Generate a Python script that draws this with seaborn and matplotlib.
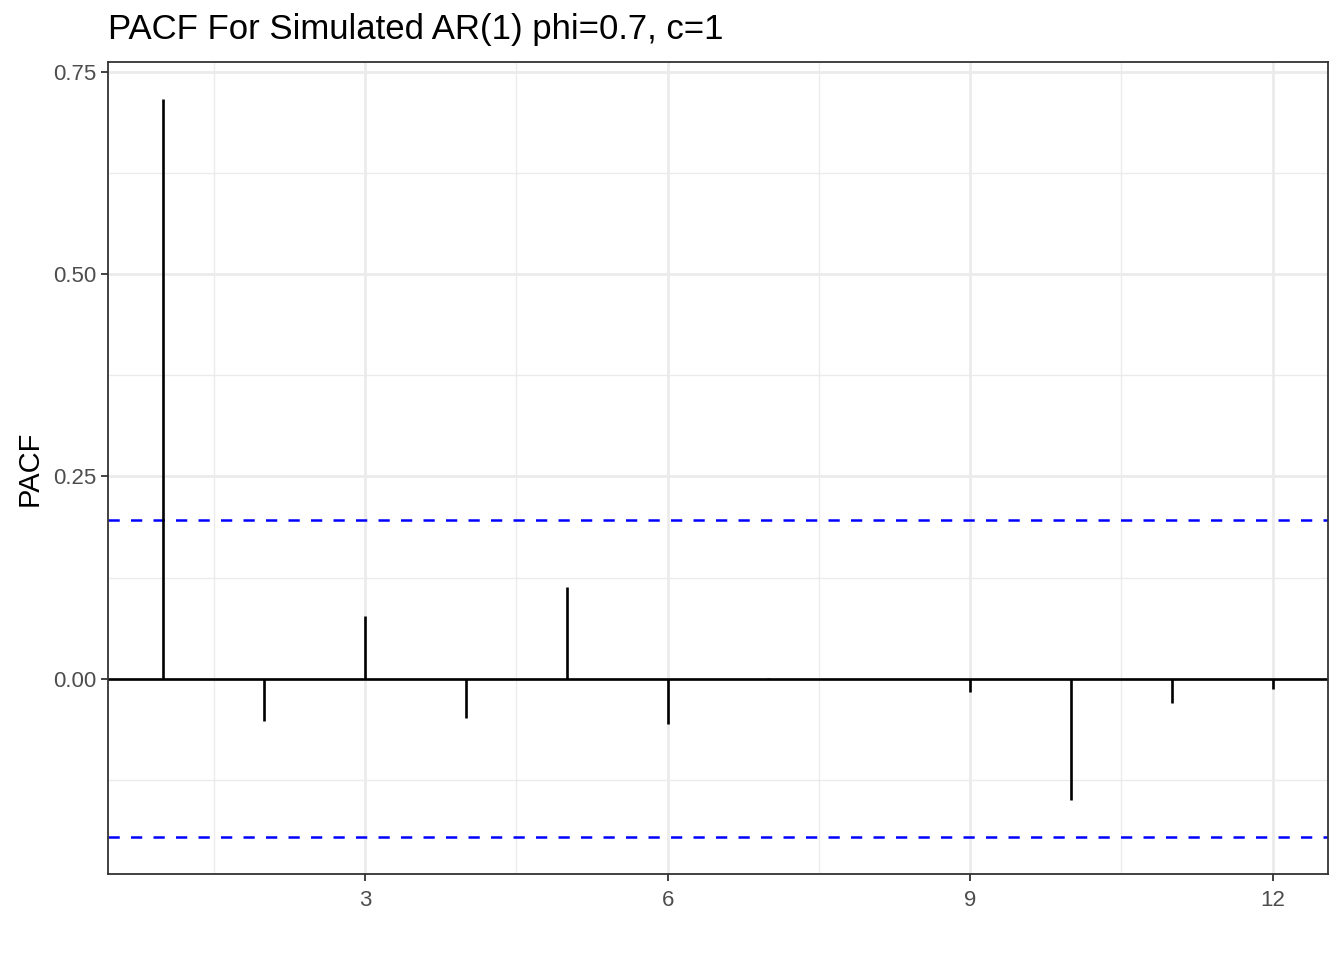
import numpy as np
import pandas as pd
import matplotlib
matplotlib.use('Agg')
import matplotlib.pyplot as plt
import seaborn as sns


# PACF values
lags = [1, 2, 3, 4, 5, 6, 7, 8, 9, 10, 11, 12]
pacf_vals = [0.717, -0.052, 0.078, -0.049, 0.113, -0.056, 0.001, -0.001,
             -0.016, -0.150, -0.030, -0.013]
ci_bound = 0.196
x_ticks = [3, 6, 9, 12]
y_ticks = [0.00, 0.25, 0.50, 0.75]

df = pd.DataFrame({'lag': lags, 'pacf': pacf_vals})

sns.set_style('white')
plt.rcParams['font.family'] = ['Liberation Sans', 'DejaVu Sans']

fig = plt.figure(figsize=(1344/100, 960/100), dpi=100)
ax = fig.add_axes([108/1344, 1 - 874/960, 1220/1344, 812/960])

# grid like theme_bw
for v in [1.5, 4.5, 7.5, 10.5]:
    ax.axvline(v, color='#EBEBEB', lw=1.0, zorder=0)
for v in [-0.125, 0.125, 0.375, 0.625]:
    ax.axhline(v, color='#EBEBEB', lw=1.0, zorder=0)
for v in x_ticks:
    ax.axvline(v, color='#EBEBEB', lw=2.0, zorder=0)
for v in y_ticks:
    ax.axhline(v, color='#EBEBEB', lw=2.0, zorder=0)

ax.axhline(0, color='black', lw=1.9, zorder=2)
ax.vlines(df['lag'], 0, df['pacf'], color='black', lw=1.9, zorder=3)
ax.axhline(ci_bound, color='blue', lw=1.8, ls=(0, (4.5, 4.5)), zorder=2)
ax.axhline(-ci_bound, color='blue', lw=1.8, ls=(0, (4.5, 4.5)), zorder=2)

lo, hi = min(pacf_vals + [-ci_bound]), max(pacf_vals + [ci_bound])
pad = (hi - lo) * 0.05
ax.set_ylim(lo - pad, hi + pad)
ax.set_xlim(1 - 0.55, 12 + 0.55)

ax.set_xticks(x_ticks)
ax.set_xticklabels([str(t) for t in x_ticks])
ax.set_yticks(y_ticks)
ax.set_yticklabels(['%.2f' % t for t in y_ticks])
ax.tick_params(axis='both', length=5.3, width=1.3, color='#333333',
               labelsize=16, labelcolor='#4D4D4D', pad=3)
ax.tick_params(axis='x', pad=6)
ax.tick_params(axis='both', which='both', bottom=True, left=True)

for s in ax.spines.values():
    s.set_color('#333333')
    s.set_linewidth(1.3)

ax.set_ylabel('PACF', fontsize=21, color='black', labelpad=7)
ax.set_xlabel('')
fig.text(108/1344, 1 - 30/960, 'PACF For Simulated AR(1) phi=0.7, c=1',
         fontsize=25, va='center', ha='left', color='black')

plt.savefig('out.png', dpi=100)
